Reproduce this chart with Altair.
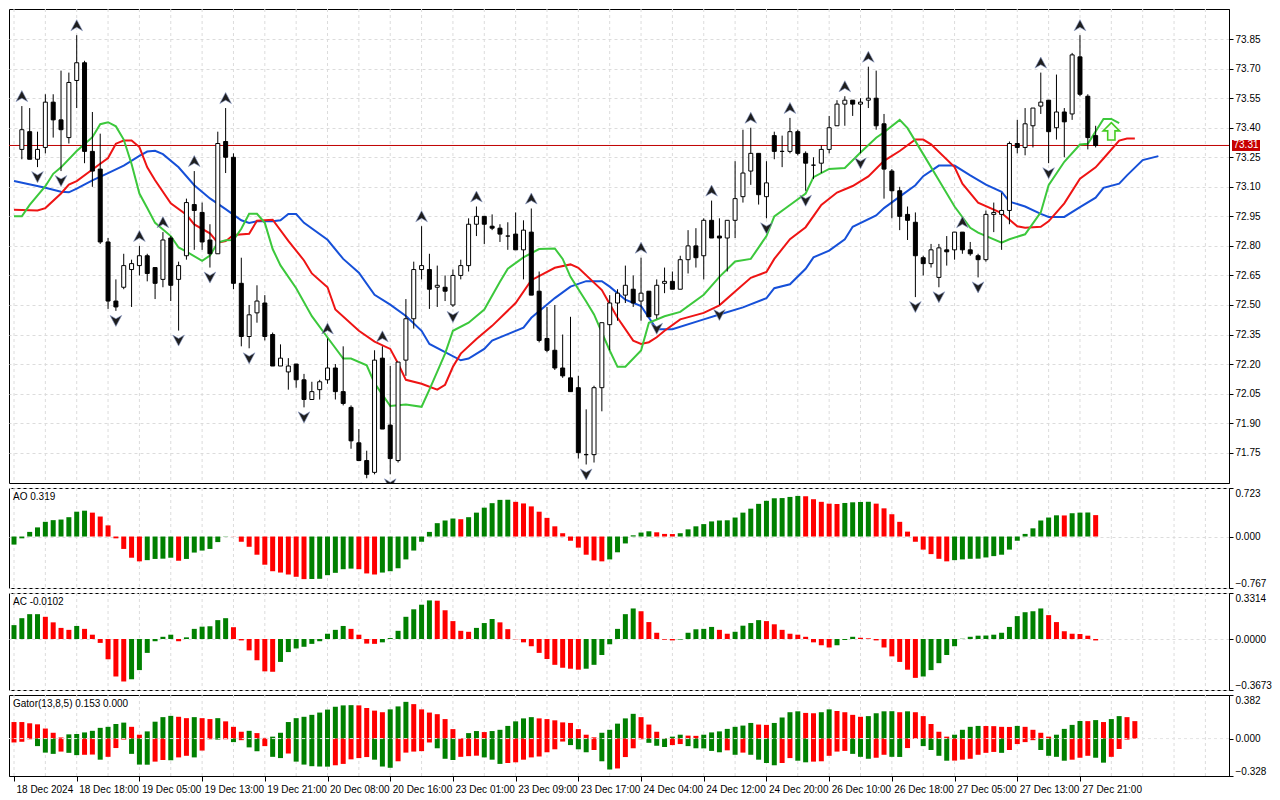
import altair as alt
import pandas as pd

FONT = "Liberation Sans"

# ---------------- candles (bar index 1..138) ----------------
first_bar = 1
opens = [73.29,73.38,73.24,73.30,73.53,73.44,73.35,73.64,73.73,73.28,
         73.19,72.82,72.52,72.59,72.68,72.70,72.75,72.69,72.63,72.84,
         72.63,72.75,73.01,72.97,72.83,72.76,73.33,73.25,72.61,72.34,
         72.46,72.51,72.35,72.19,72.16,72.20,72.12,72.02,72.07,72.12,
         72.18,72.06,71.98,71.80,71.71,71.65,72.23,71.89,71.71,72.22,
         72.43,72.68,72.68,72.59,72.59,72.50,72.65,72.70,72.91,72.95,
         72.90,72.89,72.85,72.86,72.78,72.87,72.57,72.33,72.27,72.18,
         72.13,72.08,71.74,71.74,72.08,72.40,72.51,72.55,72.58,72.52,
         72.57,72.45,72.61,72.62,72.58,72.73,72.80,72.75,72.93,72.85,
         72.84,72.93,73.05,73.18,73.27,73.05,73.36,73.28,73.28,73.38,
         73.27,73.21,73.22,73.29,73.41,73.52,73.54,73.52,73.54,73.55,
         73.42,73.18,73.08,72.96,72.92,72.74,72.71,72.64,72.78,72.78,
         72.87,72.78,72.75,72.73,72.96,72.96,72.98,73.32,73.30,73.41,
         73.51,73.54,73.40,73.48,73.47,73.76,73.56,73.36]
highs = [73.51,73.50,73.38,73.57,73.57,73.69,73.68,73.87,73.74,73.48,
         73.37,72.84,72.63,72.76,72.73,72.80,72.76,72.69,72.87,72.85,
         72.72,73.04,73.18,73.02,72.91,73.38,73.50,73.27,72.74,72.50,
         72.60,72.55,72.36,72.30,72.23,72.20,72.15,72.11,72.12,72.33,
         72.20,72.29,71.99,71.87,71.76,72.27,72.29,72.19,72.21,72.53,
         72.72,72.90,72.76,72.70,72.65,72.68,72.73,72.94,73.00,72.95,
         72.96,72.91,72.92,72.97,72.93,72.99,72.67,72.49,72.50,72.35,
         72.44,72.14,71.97,72.09,72.41,72.55,72.58,72.70,72.65,72.74,
         72.57,72.63,72.69,72.67,72.75,72.88,72.89,72.94,73.03,72.94,
         72.93,73.23,73.39,73.40,73.27,73.23,73.38,73.36,73.45,73.39,
         73.28,73.25,73.31,73.46,73.54,73.56,73.54,73.55,73.71,73.69,
         73.47,73.19,73.10,73.00,72.97,72.75,72.81,72.81,72.85,72.87,
         72.87,72.82,72.76,72.98,73.02,73.07,73.33,73.44,73.50,73.50,
         73.68,73.54,73.67,73.50,73.78,73.87,73.57,73.41]
lows = [73.24,73.24,73.20,73.27,73.35,73.18,73.32,73.50,73.22,73.10,
        72.81,72.48,72.47,72.58,72.49,72.65,72.62,72.53,72.59,72.52,
        72.37,72.73,72.78,72.78,72.69,72.76,73.17,72.58,72.29,72.28,
        72.41,72.32,72.19,72.19,72.07,72.08,71.98,72.02,72.02,72.10,
        72.02,71.99,71.77,71.71,71.62,71.64,71.87,71.64,71.70,72.14,
        72.38,72.63,72.48,72.49,72.52,72.49,72.63,72.67,72.85,72.81,
        72.88,72.82,72.78,72.78,72.63,72.55,72.31,72.26,72.17,72.13,
        72.06,71.72,71.69,71.70,71.96,72.27,72.42,72.51,72.49,72.42,
        72.44,72.43,72.56,72.58,72.58,72.66,72.69,72.63,72.84,72.50,
        72.67,72.84,73.02,73.11,73.01,72.94,73.24,73.20,73.27,73.26,
        73.08,73.14,73.17,73.27,73.41,73.41,73.46,73.27,73.50,73.39,
        73.04,72.94,72.88,72.83,72.54,72.65,72.69,72.59,72.70,72.73,
        72.76,72.75,72.64,72.72,72.87,72.78,72.91,73.27,73.26,73.30,
        73.47,73.22,73.34,73.25,73.44,73.56,73.29,73.30]
closes = [73.39,73.24,73.29,73.53,73.44,73.39,73.63,73.73,73.28,73.18,
          72.82,72.52,72.49,72.70,72.71,72.75,72.66,72.61,72.83,72.60,
          72.70,73.02,72.98,72.82,72.76,73.32,73.25,72.61,72.34,72.45,
          72.52,72.34,72.19,72.23,72.19,72.12,72.02,72.06,72.11,72.18,
          72.06,72.00,71.81,71.71,71.64,72.22,71.87,71.72,72.21,72.43,
          72.68,72.70,72.58,72.60,72.57,72.65,72.70,72.91,72.95,72.91,
          72.89,72.86,72.85,72.78,72.88,72.55,72.32,72.27,72.18,72.14,
          72.06,71.75,71.74,72.08,72.41,72.51,72.56,72.60,72.51,72.56,
          72.44,72.60,72.62,72.58,72.73,72.80,72.74,72.93,72.84,72.84,
          72.93,73.04,73.17,73.27,73.06,73.12,73.28,73.28,73.38,73.27,
          73.22,73.21,73.29,73.40,73.52,73.54,73.52,73.53,73.55,73.41,
          73.19,73.08,72.95,72.93,72.75,72.71,72.78,72.79,72.77,72.87,
          72.78,72.76,72.73,72.96,72.97,72.98,73.32,73.30,73.42,73.50,
          73.53,73.38,73.48,73.43,73.77,73.57,73.35,73.31]

# ---------------- alligator ----------------
jaw_j = [0,4,6,7,8,10,12,14,16,17,18,19,21,23,25,27,29,30,31,33,34,35,36,37,40,42,44,46,48,50,
         52,53,55,57,58,60,61,63,65,66,69,71,73,75,76,78,80,82,84,88,90,93,96,97,99,101,102,104,106,107,
         110,111,113,115,116,118,120,122,124,126,127,129,131,132,134,136,138,139,141,142,144,146]
jaw_v = [73.130,73.095,73.075,73.072,73.091,73.133,73.170,73.208,73.257,73.279,
         73.283,73.266,73.199,73.108,73.041,72.987,72.930,72.917,72.925,72.925,
         72.930,72.962,72.962,72.917,72.831,72.734,72.664,72.552,72.502,72.444,
         72.369,72.302,72.261,72.219,72.228,72.277,72.319,72.352,72.385,72.435,
         72.535,72.593,72.621,72.621,72.593,72.527,72.495,72.377,72.377,72.427,
         72.452,72.488,72.535,72.585,72.605,72.684,72.742,72.776,72.834,72.897,
         72.955,72.992,73.050,73.108,73.154,73.208,73.208,73.158,73.111,73.075,
         73.025,73.000,72.963,72.947,72.947,72.997,73.045,73.095,73.116,73.158,
         73.236,73.256]
teeth_j = [0,3,4,6,7,8,10,12,13,14,15,16,17,18,20,22,23,25,26,27,28,30,31,33,35,37,38,40,41,44,
           46,48,49,50,52,54,55,56,57,59,61,64,66,69,71,72,75,76,77,79,80,81,82,83,85,88,90,92,94,96,
           97,99,101,103,105,107,109,111,113,115,116,117,120,121,123,126,128,129,131,132,134,136,138,139,141,142,143]
teeth_v = [72.983,72.980,72.992,73.066,73.111,73.129,73.188,73.246,73.319,73.335,
           73.335,73.302,73.199,73.133,73.016,72.958,72.909,72.864,72.817,72.824,
           72.855,72.862,72.928,72.933,72.826,72.726,72.660,72.590,72.477,72.369,
           72.314,72.277,72.203,72.120,72.100,72.070,72.095,72.186,72.253,72.327,
           72.394,72.510,72.626,72.689,72.706,72.689,72.576,72.505,72.435,72.319,
           72.302,72.311,72.336,72.369,72.427,72.460,72.498,72.568,72.638,72.668,
           72.734,72.834,72.895,73.008,73.071,73.104,73.153,73.232,73.282,73.340,
           73.340,73.316,73.200,73.116,73.020,72.967,72.900,72.892,72.897,72.925,
           73.016,73.141,73.199,73.244,73.335,73.345,73.345]
lips_j = [0,1,2,4,5,6,8,10,11,12,13,14,15,16,17,18,20,21,22,24,25,26,27,28,29,30,31,32,33,34,
          36,38,40,42,43,45,46,48,50,52,53,55,56,58,60,62,63,65,67,69,70,71,73,74,76,77,78,80,81,83,
          85,88,90,92,94,96,97,99,101,102,104,106,108,110,111,113,114,116,118,120,122,123,126,127,129,
          131,132,134,136,137,139,140,141]
lips_v = [72.950,72.950,73.008,73.103,73.166,73.199,73.282,73.352,73.418,73.428,
          73.407,73.340,73.216,73.066,72.992,72.917,72.850,72.792,72.771,72.724,
          72.751,72.817,72.829,72.830,72.887,72.963,72.963,72.917,72.784,72.701,
          72.585,72.443,72.335,72.228,72.228,72.194,72.103,71.987,71.995,71.983,
          72.070,72.253,72.369,72.410,72.477,72.618,72.684,72.742,72.784,72.787,
          72.734,72.643,72.518,72.452,72.269,72.186,72.186,72.269,72.410,72.443,
          72.465,72.552,72.643,72.721,72.734,72.850,72.950,73.008,73.066,73.149,
          73.191,73.196,73.274,73.349,73.377,73.440,73.398,73.266,73.133,73.000,
          72.892,72.867,72.817,72.834,72.859,72.970,73.108,73.227,73.315,73.319,
          73.445,73.445,73.423]

fractal_up = [1, 8, 16, 19, 23, 27, 40, 47, 52, 59, 66, 80, 89, 94, 99, 106, 109, 121, 131, 136]
fractal_dn = [3, 6, 13, 21, 25, 30, 37, 45, 48, 56, 73, 82, 90, 96, 101, 108, 115, 118, 123, 132]

signal_bar = [140]
signal_price = [73.382]
last_price = 73.31

# ---------------- Awesome Oscillator (bar 0..138) ----------------
ao_vals = [-0.120,-0.027,0.069,0.136,0.219,0.244,0.253,0.288,0.370,0.385,
           0.356,0.298,0.166,-0.027,-0.185,-0.316,-0.370,-0.352,-0.334,-0.330,
           -0.316,-0.361,-0.334,-0.239,-0.209,-0.185,-0.083,0.004,0.002,-0.078,
           -0.153,-0.271,-0.420,-0.517,-0.537,-0.566,-0.600,-0.635,-0.633,-0.630,
           -0.576,-0.541,-0.487,-0.478,-0.487,-0.550,-0.566,-0.537,-0.517,-0.473,
           -0.341,-0.209,-0.078,0.069,0.199,0.239,0.268,0.258,0.288,0.356,
           0.430,0.497,0.546,0.548,0.517,0.493,0.449,0.370,0.278,0.152,
           0.049,-0.063,-0.166,-0.271,-0.356,-0.370,-0.341,-0.235,-0.103,0.018,
           0.059,0.078,0.063,0.039,0.037,0.049,0.107,0.152,0.185,0.225,
           0.239,0.242,0.283,0.356,0.415,0.487,0.532,0.570,0.573,0.590,
           0.605,0.600,0.556,0.517,0.490,0.485,0.500,0.510,0.515,0.518,
           0.490,0.420,0.332,0.219,0.073,-0.078,-0.195,-0.262,-0.332,-0.370,
           -0.352,-0.341,-0.332,-0.330,-0.312,-0.292,-0.271,-0.195,-0.063,0.039,
           0.122,0.239,0.283,0.316,0.314,0.347,0.356,0.358,0.319]
ao_colors = "".join(["g", "ggggggggg", "rrrrrrr", "gggg", "r", "gggggg", "rrrrrrrrrr",
                     "gggggg", "rrr", "gggggggggg", "r", "gggggg", "rrrrrrrrrrrr",
                     "gggggg", "rrr", "gggggggggggggggg", "rrrrr", "gggg", "rrrrrrrrrr",
                     "gggggggggggggg", "r", "ggg", "r"])

# ---------------- Accelerator Oscillator (bar 0..138) ----------------
ac_vals = [0.100,0.150,0.179,0.179,0.160,0.120,0.080,0.066,0.094,0.073,
           0.031,-0.028,-0.146,-0.270,-0.306,-0.290,-0.224,-0.100,-0.016,0.016,
           0.031,-0.016,0.012,0.073,0.089,0.092,0.136,0.150,0.085,-0.010,
           -0.082,-0.153,-0.233,-0.236,-0.165,-0.094,-0.068,-0.056,-0.035,-0.016,
           0.038,0.066,0.094,0.073,0.031,-0.033,-0.035,-0.024,0.007,0.059,
           0.160,0.214,0.247,0.278,0.276,0.207,0.129,0.059,0.052,0.080,
           0.115,0.144,0.120,0.071,-0.002,-0.024,-0.052,-0.100,-0.144,-0.186,
           -0.207,-0.214,-0.221,-0.214,-0.186,-0.115,-0.038,0.073,0.179,0.220,
           0.200,0.122,0.045,-0.005,-0.010,-0.004,0.045,0.070,0.073,0.087,
           0.066,0.038,0.052,0.096,0.115,0.136,0.129,0.106,0.066,0.038,
           0.031,0.016,-0.024,-0.045,-0.061,-0.045,-0.007,0.016,0.009,0.005,
           -0.010,-0.061,-0.125,-0.165,-0.221,-0.280,-0.270,-0.224,-0.174,-0.115,
           -0.052,0.002,0.016,0.024,0.025,0.031,0.045,0.087,0.165,0.193,
           0.200,0.220,0.172,0.122,0.056,0.038,0.036,0.024,-0.0102]
ac_colors = "".join(["g", "ggg", "rrrr", "g", "rrrrrr", "gggggg", "r", "gggggg", "rrrrrr",
                     "ggggggggg", "rrrr", "ggggggg", "rrrrr", "ggg", "rrrrrrrrrrr", "ggggggg",
                     "rrrrr", "ggggg", "rr", "gggg", "rrrrrrrrr", "ggg", "rrrrrrrr",
                     "gggggggggggggggg", "rrrrrrr"])

# ---------------- Gator oscillator (bar 0..143) ----------------
gator_up = [0.145,0.145,0.134,0.125,0.088,0.051,0.010,0.037,0.040,0.054,
            0.068,0.094,0.103,0.128,0.140,0.103,0.034,0.063,0.148,0.188,
            0.199,0.191,0.179,0.188,0.179,0.171,0.179,0.151,0.103,0.060,
            0.068,0.048,0.006,0.017,0.051,0.145,0.179,0.191,0.208,0.228,
            0.254,0.279,0.291,0.293,0.291,0.268,0.245,0.231,0.256,0.282,
            0.322,0.302,0.256,0.228,0.214,0.171,0.083,0.003,0.048,0.066,
            0.057,0.066,0.077,0.111,0.151,0.177,0.188,0.177,0.171,0.160,
            0.142,0.137,0.083,0.034,0.011,0.051,0.077,0.131,0.177,0.217,
            0.188,0.123,0.060,0.003,0.017,0.034,0.026,0.024,0.034,0.054,
            0.063,0.085,0.103,0.114,0.137,0.123,0.120,0.137,0.185,0.231,
            0.239,0.225,0.222,0.231,0.256,0.242,0.231,0.208,0.191,0.197,
            0.222,0.239,0.240,0.231,0.239,0.231,0.197,0.128,0.060,0.017,
            0.034,0.077,0.103,0.111,0.110,0.109,0.103,0.102,0.111,0.103,
            0.077,0.051,0.017,0.034,0.085,0.120,0.154,0.153,0.162,0.145,
            0.171,0.197,0.188,0.153]
gator_up_colors = "".join(["rrrrrrr", "gggggggg", "rr", "gggg", "rr", "g", "rr", "g", "rrr", "g",
                           "rr", "ggggggggggg", "rrrr", "ggg", "rrrrrrr", "gg", "r", "gggggg",
                           "rrrrrrrr", "ggggg",
                           "rrrr", "gg", "rr", "ggggggg", "rr", "gggg", "rr", "gg", "rrrr", "g",
                           "ggg", "r", "g", "rrrrr", "gggg", "rrrr", "g", "rrrr", "gggg", "r", "g",
                           "r", "gg", "rr"])
gator_dn = [-0.034,-0.028,-0.006,-0.066,-0.123,-0.134,-0.114,-0.125,-0.145,-0.142,
            -0.140,-0.185,-0.160,-0.083,-0.009,-0.134,-0.228,-0.229,-0.202,-0.188,
            -0.190,-0.165,-0.151,-0.165,-0.105,-0.006,-0.009,-0.006,-0.031,-0.014,
            -0.077,-0.111,-0.066,-0.160,-0.171,-0.131,-0.202,-0.228,-0.242,-0.245,
            -0.246,-0.234,-0.222,-0.182,-0.171,-0.162,-0.185,-0.245,-0.256,-0.199,
            -0.123,-0.114,-0.110,-0.034,-0.085,-0.177,-0.188,-0.160,-0.154,-0.150,
            -0.165,-0.185,-0.222,-0.214,-0.208,-0.185,-0.165,-0.157,-0.120,-0.094,
            -0.026,-0.057,-0.094,-0.120,-0.100,-0.199,-0.271,-0.262,-0.162,-0.085,
            -0.006,-0.037,-0.063,-0.074,-0.057,-0.048,-0.066,-0.085,-0.086,-0.108,
            -0.120,-0.103,-0.142,-0.123,-0.142,-0.185,-0.214,-0.234,-0.214,-0.171,
            -0.194,-0.208,-0.202,-0.199,-0.151,-0.114,-0.108,-0.134,-0.160,-0.177,
            -0.168,-0.142,-0.160,-0.161,-0.083,-0.003,-0.066,-0.100,-0.151,-0.194,
            -0.193,-0.185,-0.177,-0.142,-0.125,-0.117,-0.125,-0.100,-0.048,-0.031,
            -0.014,-0.100,-0.151,-0.160,-0.194,-0.185,-0.168,-0.151,-0.168,-0.211,
            -0.160,-0.091,-0.009,0.000]
gator_dn_colors = "".join(["rrr", "ggg", "r", "gg", "rr", "g", "rrr", "ggg", "rr", "g", "rr", "g",
                           "rr", "g", "r", "g", "r", "gg", "r", "gg", "r", "ggggg", "rrrrr", "ggg",
                           "rrrrr", "ggg", "rrr", "ggg", "rrrrrrrr", "ggg", "r", "gg", "rrr",
                           "r", "ggg", "rr", "ggggg", "r", "g", "r", "gggg", "rr", "gg", "rrrrr", "ggg",
                           "rr", "gg", "rr", "gggg", "rrrrrr", "g", "rrrr", "gggg", "rrr", "gg", "rrrr"])

time_labels = ["18 Dec 2024", "18 Dec 18:00", "19 Dec 05:00", "19 Dec 13:00", "19 Dec 21:00",
               "20 Dec 08:00", "20 Dec 16:00", "23 Dec 01:00", "23 Dec 09:00", "23 Dec 17:00",
               "24 Dec 04:00", "24 Dec 12:00", "24 Dec 20:00", "26 Dec 10:00", "26 Dec 18:00",
               "27 Dec 05:00", "27 Dec 13:00", "27 Dec 21:00"]
price_ticks = [73.85, 73.70, 73.55, 73.40, 73.25, 73.10, 72.95, 72.80, 72.65,
               72.50, 72.35, 72.20, 72.05, 71.90, 71.75]

# ---------------- layout / styles ----------------
W = 1220
H_MAIN, H_AO, H_AC, H_GT = 474, 100, 97, 81
BLUE, RED, GREEN = "#1650d8", "#ee1414", "#3cc83c"
IND_COLORS = alt.Scale(domain=["g", "r"], range=["#008000", "#ff0000"])
XS = alt.Scale(domain=[0, 154.375], nice=False, zero=False)
UP_PATH = "M0,-0.9L0.95,0.9L0,0.35L-0.95,0.9Z"
DN_PATH = "M0,0.9L0.95,-0.9L0,-0.35L-0.95,-0.9Z"
BOX_PATH = "M-1.4,-0.55L1.4,-0.55L1.4,0.55L-1.4,0.55Z"
ARROW_PATH = "M0,-1L0.95,-0.05L0.42,-0.05L0.42,1L-0.42,1L-0.42,-0.05L-0.95,-0.05Z"

label_expr = "[" + ",".join("'%s'" % t for t in time_labels) + "][round(datum.value/8)]"
X_AXIS_BOTTOM = alt.Axis(values=list(range(0, 8 * len(time_labels), 8)), labelExpr=label_expr,
                         labelAlign="left", labelOffset=2, labelPadding=3, tickSize=5,
                         grid=False, labelOverlap=False, labelFlush=False, title=None)


def xenc(axis=None):
    return alt.X("j:Q", scale=XS, axis=axis, title=None)


def vgrid(axis=None):
    gdf = pd.DataFrame({"j": list(range(0, 155, 4))})
    return alt.Chart(gdf).mark_rule(color="#dcdcdc", strokeDash=[3, 3], strokeWidth=1).encode(x=xenc(axis))


def panel_title(text):
    return alt.Chart(pd.DataFrame({"t": [text]})).mark_text(
        align="left", baseline="top", fontSize=10, font=FONT, color="black"
    ).encode(x=alt.value(4), y=alt.value(4), text="t:N")


# ---------------- main price panel ----------------
YS = alt.Scale(domain=[71.596, 74.003], nice=False, zero=False)
YA = alt.Axis(orient="right", values=price_ticks, format=".2f", grid=True, tickSize=4,
              labelPadding=2, title=None)


def ym(field):
    return alt.Y(field, scale=YS, axis=YA, title=None)


cdf = pd.DataFrame({"j": list(range(first_bar, first_bar + len(opens))),
                    "o": opens, "h": highs, "l": lows, "c": closes})

price_line = alt.Chart(pd.DataFrame({"p": [last_price]})).mark_rule(
    color="#c00000", strokeWidth=1).encode(y=ym("p:Q"))

jaw = alt.Chart(pd.DataFrame({"j": jaw_j, "v": jaw_v})).mark_line(
    color=BLUE, strokeWidth=2, clip=True).encode(x=xenc(), y=ym("v:Q"))
teeth = alt.Chart(pd.DataFrame({"j": teeth_j, "v": teeth_v})).mark_line(
    color=RED, strokeWidth=2, clip=True).encode(x=xenc(), y=ym("v:Q"))
lips = alt.Chart(pd.DataFrame({"j": lips_j, "v": lips_v})).mark_line(
    color=GREEN, strokeWidth=2, clip=True).encode(x=xenc(), y=ym("v:Q"))

wick = alt.Chart(cdf).mark_rule(color="black", strokeWidth=1, clip=True).encode(
    x=xenc(), y=ym("l:Q"), y2="h:Q")
body = alt.Chart(cdf).mark_bar(size=4, stroke="black", strokeWidth=1, clip=True).encode(
    x=xenc(), y=ym("o:Q"), y2="c:Q",
    fill=alt.condition("datum.c >= datum.o", alt.value("white"), alt.value("black")))

fu = alt.Chart(cdf[cdf.j.isin(fractal_up)]).mark_point(
    shape=UP_PATH, size=150, filled=True, fill="#1e1e1e", stroke="#8a9ac8", strokeWidth=0.6,
    opacity=1, yOffset=-10, clip=True
).encode(x=xenc(), y=ym("h:Q"))
fd = alt.Chart(cdf[cdf.j.isin(fractal_dn)]).mark_point(
    shape=DN_PATH, size=150, filled=True, fill="#1e1e1e", stroke="#8a9ac8", strokeWidth=0.6,
    opacity=1, yOffset=10, clip=True
).encode(x=xenc(), y=ym("l:Q"))

sig = alt.Chart(pd.DataFrame({"j": signal_bar, "p": signal_price})).mark_point(
    shape=ARROW_PATH, size=300, filled=True, fill="#f4fff0", stroke="#44cc22", strokeWidth=1.6, opacity=1
).encode(x=xenc(), y=ym("p:Q"))

pdf = pd.DataFrame({"p": [last_price], "lbl": ["%.2f" % last_price]})
box = alt.Chart(pdf).mark_point(shape=BOX_PATH, size=400, filled=True, color="#c80000", opacity=1).encode(
    x=alt.value(W + 17), y=ym("p:Q"))
box_txt = alt.Chart(pdf).mark_text(color="white", fontSize=10, font=FONT, align="center",
                                    baseline="middle").encode(x=alt.value(W + 17), y=ym("p:Q"), text="lbl:N")

main = alt.layer(vgrid(), price_line, jaw, teeth, lips, wick, body, fu, fd, sig, box, box_txt).properties(
    width=W, height=H_MAIN)

# ---------------- AO panel ----------------
ao_df = pd.DataFrame({"j": list(range(len(ao_vals))), "v": ao_vals, "c": list(ao_colors)})
AO_Y = alt.Y("v:Q", scale=alt.Scale(domain=[-0.767, 0.723], nice=False, zero=False),
             axis=alt.Axis(orient="right", values=[0.723, 0.0, -0.767], format=".3f", labelFlush=True,
                           grid=True, tickSize=4, labelPadding=2, title=None), title=None)
ao = alt.layer(
    vgrid(),
    alt.Chart(ao_df).mark_bar(size=5, clip=True).encode(
        x=xenc(), y=AO_Y, y2=alt.datum(0), color=alt.Color("c:N", scale=IND_COLORS, legend=None)),
    panel_title("AO %.3f" % ao_vals[-1]),
).properties(width=W, height=H_AO)

# ---------------- AC panel ----------------
ac_df = pd.DataFrame({"j": list(range(len(ac_vals))), "v": ac_vals, "c": list(ac_colors)})
AC_Y = alt.Y("v:Q", scale=alt.Scale(domain=[-0.3673, 0.3314], nice=False, zero=False),
             axis=alt.Axis(orient="right", values=[0.3314, 0.0, -0.3673], format=".4f", labelFlush=True,
                           grid=True, tickSize=4, labelPadding=2, title=None), title=None)
ac = alt.layer(
    vgrid(),
    alt.Chart(ac_df).mark_bar(size=5, clip=True).encode(
        x=xenc(), y=AC_Y, y2=alt.datum(0), color=alt.Color("c:N", scale=IND_COLORS, legend=None)),
    panel_title("AC %.4f" % ac_vals[-1]),
).properties(width=W, height=H_AC)

# ---------------- Gator panel ----------------
gu_df = pd.DataFrame({"j": list(range(len(gator_up))), "v": gator_up, "c": list(gator_up_colors)})
gd_df = pd.DataFrame({"j": list(range(len(gator_dn))), "v": gator_dn, "c": list(gator_dn_colors)})
GT_Y = alt.Y("v:Q", scale=alt.Scale(domain=[-0.328, 0.382], nice=False, zero=False),
             axis=alt.Axis(orient="right", values=[0.382, 0.0, -0.328], format=".3f", labelFlush=True,
                           grid=False, tickSize=4, labelPadding=2, title=None), title=None)
zero_line = alt.Chart(pd.DataFrame({"v": [0.0]})).mark_rule(
    color="#e4e4e4", strokeDash=[3, 3], strokeWidth=1).encode(y=GT_Y)
gator = alt.layer(
    vgrid(X_AXIS_BOTTOM),
    alt.Chart(gu_df).mark_bar(size=5, clip=True).encode(
        x=xenc(X_AXIS_BOTTOM), y=GT_Y, y2=alt.datum(0), color=alt.Color("c:N", scale=IND_COLORS, legend=None)),
    alt.Chart(gd_df).mark_bar(size=5, clip=True).encode(
        x=xenc(X_AXIS_BOTTOM), y=GT_Y, y2=alt.datum(0), color=alt.Color("c:N", scale=IND_COLORS, legend=None)),
    zero_line,
    panel_title("Gator(13,8,5) %.3f %.3f" % (gator_up[-1], abs(gator_dn[-1]))),
).properties(width=W, height=H_GT)

chart = alt.vconcat(main, ao, ac, gator, spacing=3, padding=0, background="white").configure_view(
    stroke="black", strokeWidth=1
).configure_axis(
    labelFont=FONT, labelFontSize=10, labelColor="black", tickColor="black", domainColor="black",
    gridColor="#dcdcdc", gridDash=[3, 3], gridWidth=1, domainWidth=1, tickWidth=1
)

chart.save("out.html", embed_options={"renderer": "svg", "actions": False})
